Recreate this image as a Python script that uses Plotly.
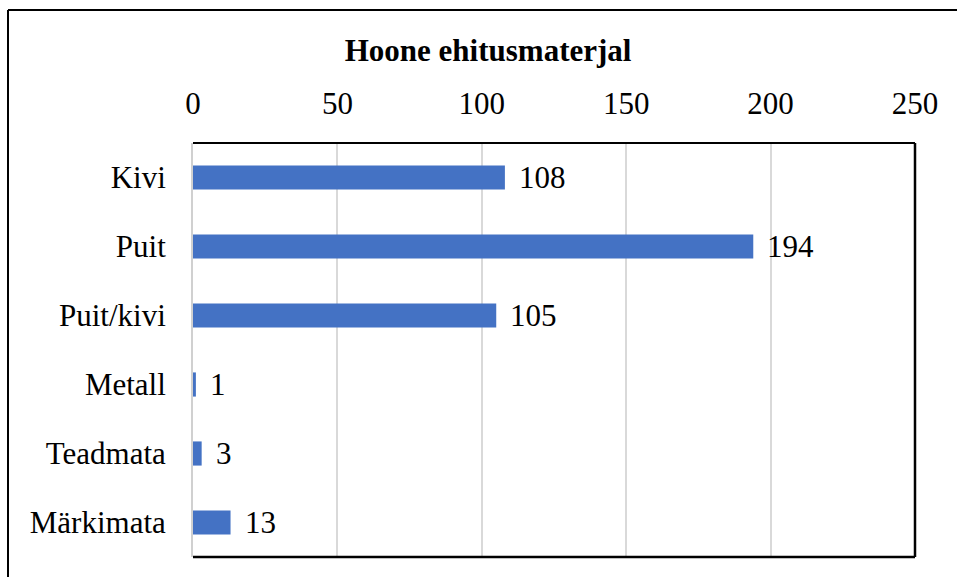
import plotly.graph_objects as go

categories = ["Kivi", "Puit", "Puit/kivi", "Metall", "Teadmata", "Märkimata"]
values = [108, 194, 105, 1, 3, 13]
title_text = "Hoone ehitusmaterjal"

FONT = "Liberation Serif, Times New Roman, serif"

fig = go.Figure(go.Bar(
    x=values, y=categories, orientation="h",
    marker=dict(color="#4472C4", line=dict(width=0)),
    width=0.35, hoverinfo="x+y",
))

annotations = [
    dict(x=v, y=c, xref="x", yref="y", text=str(v), showarrow=False,
         xanchor="left", yanchor="middle", xshift=12,
         font=dict(family=FONT, size=31, color="black"))
    for c, v in zip(categories, values)
]

fig.update_layout(
    width=957, height=577,
    margin=dict(l=193, r=42, t=143, b=20),
    paper_bgcolor="white", plot_bgcolor="white",
    font=dict(family=FONT, size=31, color="black"),
    title=dict(text="<b>" + title_text + "</b>", font=dict(family=FONT, size=31, color="black"),
               x=0.51, xref="container", xanchor="center",
               y=1 - 50 / 577, yref="container", yanchor="middle"),
    showlegend=False,
    annotations=annotations,
    xaxis=dict(side="top", range=[0, 250], dtick=50, showgrid=True, gridcolor="#d9d9d9",
               gridwidth=1.5, zeroline=False, showline=False, ticks="",
               ticklabelstandoff=22, tickfont=dict(family=FONT, size=31, color="black")),
    yaxis=dict(autorange="reversed", showgrid=False, zeroline=False, showline=True,
               linecolor="#d0d0d0", linewidth=2, ticks="", ticklabelstandoff=19,
               tickfont=dict(family=FONT, size=31, color="black")),
    shapes=[
        # plot area border (top, right, bottom)
        dict(type="line", xref="paper", yref="paper", x0=0, x1=1, y0=1, y1=1, line=dict(color="black", width=2)),
        dict(type="line", xref="paper", yref="paper", x0=1, x1=1, y0=0, y1=1, line=dict(color="black", width=2.5)),
        dict(type="line", xref="paper", yref="paper", x0=0, x1=1, y0=0, y1=0, line=dict(color="black", width=2.5)),
        # outer frame (left and top)
        dict(type="line", xref="paper", yref="paper", x0=(8 - 193) / 722, x1=(8 - 193) / 722,
             y0=(557 - 580) / 414, y1=(557 - 10) / 414, line=dict(color="black", width=2)),
        dict(type="line", xref="paper", yref="paper", x0=(8 - 193) / 722, x1=(960 - 193) / 722,
             y0=(557 - 10) / 414, y1=(557 - 10) / 414, line=dict(color="black", width=2)),
    ],
)

fig.write_html("out.html", config={"displayModeBar": False},
               post_script="document.body.style.margin='0';document.body.style.padding='0';")
